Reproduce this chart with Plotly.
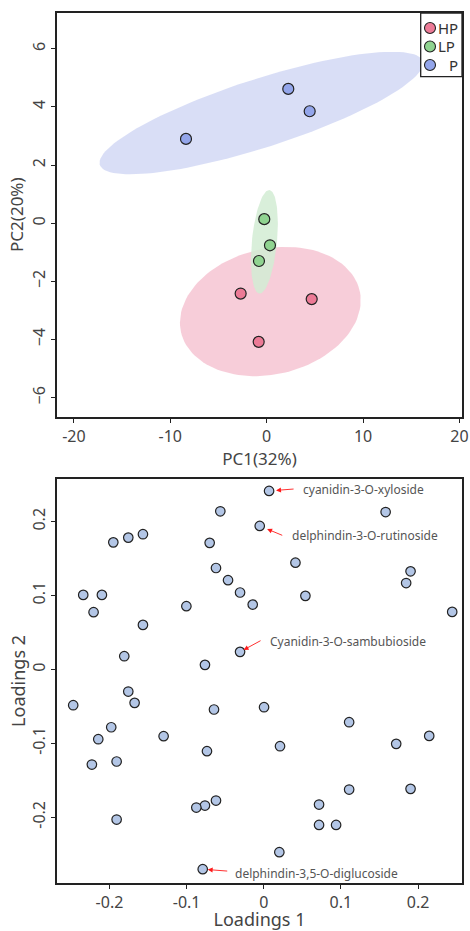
import numpy as np
import plotly.graph_objects as go

# ---------------- PCA scores (top) ----------------
groups = ["HP", "LP", "P"]
hp_pc1 = [-2.7, 4.67, -0.83]
hp_pc2 = [-2.42, -2.61, -4.08]
lp_pc1 = [-0.25, 0.34, -0.80]
lp_pc2 = [0.14, -0.76, -1.30]
p_pc1 = [-8.37, 2.24, 4.46]
p_pc2 = [2.90, 4.62, 3.85]

point_colors = {"HP": "#EC7A96", "LP": "#8FD390", "P": "#93A5EA"}
fill_colors = {"HP": "rgba(246,196,210,0.85)", "LP": "rgba(210,236,212,0.85)", "P": "rgba(210,216,244,0.85)"}

# ---------------- Loadings (bottom) ----------------
load1 = [0.0069, -0.0563, 0.158, -0.0052, -0.1566, -0.1756, -0.195, -0.0701, 0.0411, -0.0619,
         0.1903, -0.0463, 0.1846, -0.234, -0.2098, -0.0307, 0.054, -0.1003, -0.0143, -0.2206,
         0.2443, -0.1566, -0.0307, -0.1808, -0.0762, -0.1756, -0.1674, -0.247, -0.0645, 0.0004,
         -0.1977, 0.1107, -0.2145, -0.1298, 0.2145, 0.1717, 0.0211, -0.0736, -0.2228, -0.1907,
         0.1107, 0.1903, -0.0619, -0.0762, -0.0874, 0.0717, 0.0717, 0.0938, -0.1907, 0.0202,
         -0.0791]
load2 = [0.2416, 0.214, 0.213, 0.1942, 0.183, 0.1784, 0.172, 0.1713, 0.1445, 0.1373,
         0.1328, 0.1208, 0.1169, 0.1009, 0.1009, 0.1041, 0.0996, 0.0856, 0.0878, 0.0775,
         0.0779, 0.0603, 0.0238, 0.0179, 0.0062, -0.0299, -0.0452, -0.0484, -0.0542, -0.0511,
         -0.0782, -0.0714, -0.0944, -0.0903, -0.0899, -0.1007, -0.1039, -0.1106, -0.1287, -0.1246,
         -0.1625, -0.1616, -0.1774, -0.1842, -0.1869, -0.1828, -0.2104, -0.2104, -0.2031, -0.2473,
         -0.2703]

label_idx = [0, 3, 22, 50]
label_text = ["cyanidin-3-O-xyloside", "delphindin-3-O-rutinoside",
              "Cyanidin-3-O-sambubioside", "delphindin-3,5-O-diglucoside"]

x_ticks_top = [-20, -10, 0, 10, 20]
y_ticks_top = [-6, -4, -2, 0, 2, 4, 6]
x_ticks_bot = [-0.2, -0.1, 0, 0.1, 0.2]
y_ticks_bot = [-0.2, -0.1, 0, 0.1, 0.2]

FONT = "Noto Sans"
TXT = "#444444"

W, H = 470, 931
ML, MR, MT, MB = 57, 8, 13, 48
TOP_DOMAIN = [0.5358, 1]
BOT_DOMAIN = [0, 0.4646]


def conf_ellipse(x, y, n=120):
    x = np.asarray(x, float)
    y = np.asarray(y, float)
    cov = np.cov(x, y)
    vals, vecs = np.linalg.eigh(cov)
    c = np.sqrt(5.991)  # 95% chi-square, 2 dof
    t = np.linspace(0, 2 * np.pi, n)
    circ = np.vstack([np.cos(t), np.sin(t)])
    pts = vecs @ (np.sqrt(np.maximum(vals, 0))[:, None] * circ) * c
    return pts[0] + x.mean(), pts[1] + y.mean()


def px_to_paper(px, py):
    return (px - ML) / (W - ML - MR), (H - MB - py) / (H - MT - MB)


fig = go.Figure()

data = {"HP": (hp_pc1, hp_pc2), "LP": (lp_pc1, lp_pc2), "P": (p_pc1, p_pc2)}
for g in ["P", "HP", "LP"]:
    ex, ey = conf_ellipse(*data[g])
    fig.add_trace(go.Scatter(x=ex, y=ey, mode="lines", fill="toself",
                             fillcolor=fill_colors[g], line=dict(width=0),
                             hoverinfo="skip", showlegend=False,
                             xaxis="x", yaxis="y"))

for g in groups:
    fig.add_trace(go.Scatter(x=data[g][0], y=data[g][1], mode="markers", name=g,
                             showlegend=False,
                             marker=dict(size=11, color=point_colors[g],
                                         line=dict(color="#222222", width=1.2)),
                             xaxis="x", yaxis="y"))

fig.add_trace(go.Scatter(x=load1, y=load2, mode="markers", showlegend=False,
                         marker=dict(size=9.5, color="#B3C6E6",
                                     line=dict(color="#222222", width=1.2)),
                         xaxis="x2", yaxis="y2"))

# ---- custom compact legend (box, symbols, names) ----
lx0, ly0 = px_to_paper(420.7, 13)
lx1, ly1 = px_to_paper(462, 76.7)
fig.add_shape(type="rect", xref="paper", yref="paper", x0=lx0, x1=lx1, y0=ly1, y1=ly0,
              line=dict(color="#222222", width=1.3), fillcolor="white", layer="above")
leg_rows_y = [28.0, 46.5, 65.0]
leg_text_x = [436.5, 436.5, 448.0]
for g, ry, tx in zip(groups, leg_rows_y, leg_text_x):
    cx, cy = px_to_paper(430, ry)
    fig.add_shape(type="circle", xref="paper", yref="paper",
                  xsizemode="pixel", ysizemode="pixel", xanchor=cx, yanchor=cy,
                  x0=-5.5, x1=5.5, y0=-5.5, y1=5.5,
                  fillcolor=point_colors[g], line=dict(color="#222222", width=1.1),
                  layer="above")
    tpx, tpy = px_to_paper(tx, ry)
    fig.add_annotation(x=tpx, y=tpy, xref="paper", yref="paper", text=g, showarrow=False,
                       xanchor="left", yanchor="middle", borderpad=0,
                       font=dict(family=FONT, size=15, color="#333333"))

# ---- labelled compounds ----
arrow_ax = [26, 24, 22, 26]
arrow_ay = [-2, 10, -12, 2]
arrow_stand = [7, 8, 4, 5]
text_dx = [32, 30, 28, 30]
text_dy = [1, -10, 10, -4]
for i, lab, ax, ay, so, dx, dy in zip(label_idx, label_text, arrow_ax, arrow_ay,
                                      arrow_stand, text_dx, text_dy):
    fig.add_annotation(x=load1[i], y=load2[i], xref="x2", yref="y2", text="",
                       showarrow=True, ax=ax, ay=ay, arrowhead=2, arrowsize=1.1,
                       arrowwidth=0.9, arrowcolor="#FF1A1A", standoff=so)
    fig.add_annotation(x=load1[i], y=load2[i], xref="x2", yref="y2", text=lab,
                       showarrow=False, xanchor="left", yanchor="middle",
                       xshift=dx, yshift=dy,
                       font=dict(family=FONT, size=12, color="#555555"))

# ---- y-axis titles ----
ytitle_x, _ = px_to_paper(17, 0)
fig.add_annotation(x=ytitle_x, y=sum(TOP_DOMAIN) / 2, xref="paper", yref="paper",
                   text="PC2(20%)", textangle=-90, showarrow=False,
                   xanchor="center", yanchor="middle", borderpad=0,
                   font=dict(family=FONT, size=17, color=TXT))
ytitle_x2, _ = px_to_paper(18, 0)
fig.add_annotation(x=ytitle_x2, y=sum(BOT_DOMAIN) / 2, xref="paper", yref="paper",
                   text="Loadings 2", textangle=-90, showarrow=False,
                   xanchor="center", yanchor="middle", borderpad=0,
                   font=dict(family=FONT, size=18, color=TXT))

axis_common = dict(showline=True, linecolor="#222222", linewidth=2, mirror=True,
                   ticks="outside", ticklen=4, tickwidth=1.3, tickcolor="#222222",
                   showgrid=False, zeroline=False, automargin=False,
                   tickfont=dict(family=FONT, size=16, color=TXT))

fig.update_layout(
    width=W, height=H,
    margin=dict(l=ML, r=MR, t=MT, b=MB),
    paper_bgcolor="white", plot_bgcolor="white",
    font=dict(family=FONT, color=TXT),
    showlegend=False,
    xaxis=dict(domain=[0, 1], anchor="y", range=[-21.75, 20.26],
               tickvals=x_ticks_top, ticktext=["-20", "-10", "0", "10", "20"],
               title=dict(text="PC1(32%)", standoff=0, font=dict(family=FONT, size=17, color=TXT)),
               **axis_common),
    yaxis=dict(domain=TOP_DOMAIN, anchor="x", range=[-6.66, 7.23],
               tickvals=y_ticks_top, tickangle=-90,
               **axis_common),
    xaxis2=dict(domain=[0, 1], anchor="y2", range=[-0.268, 0.257],
                tickvals=x_ticks_bot, ticktext=["-0.2", "-0.1", "0", "0.1", "0.2"],
                title=dict(text="Loadings 1", standoff=5, font=dict(family=FONT, size=18, color=TXT)),
                **axis_common),
    yaxis2=dict(domain=BOT_DOMAIN, anchor="x2", range=[-0.289, 0.258],
                tickvals=y_ticks_bot, ticktext=["-0.2", "-0.1", "0", "0.1", "0.2"], tickangle=-90,
                **axis_common),
)

fig.write_html("out.html", config={"displayModeBar": False},
               post_script="document.body.style.margin='0';document.body.style.overflow='hidden';")
